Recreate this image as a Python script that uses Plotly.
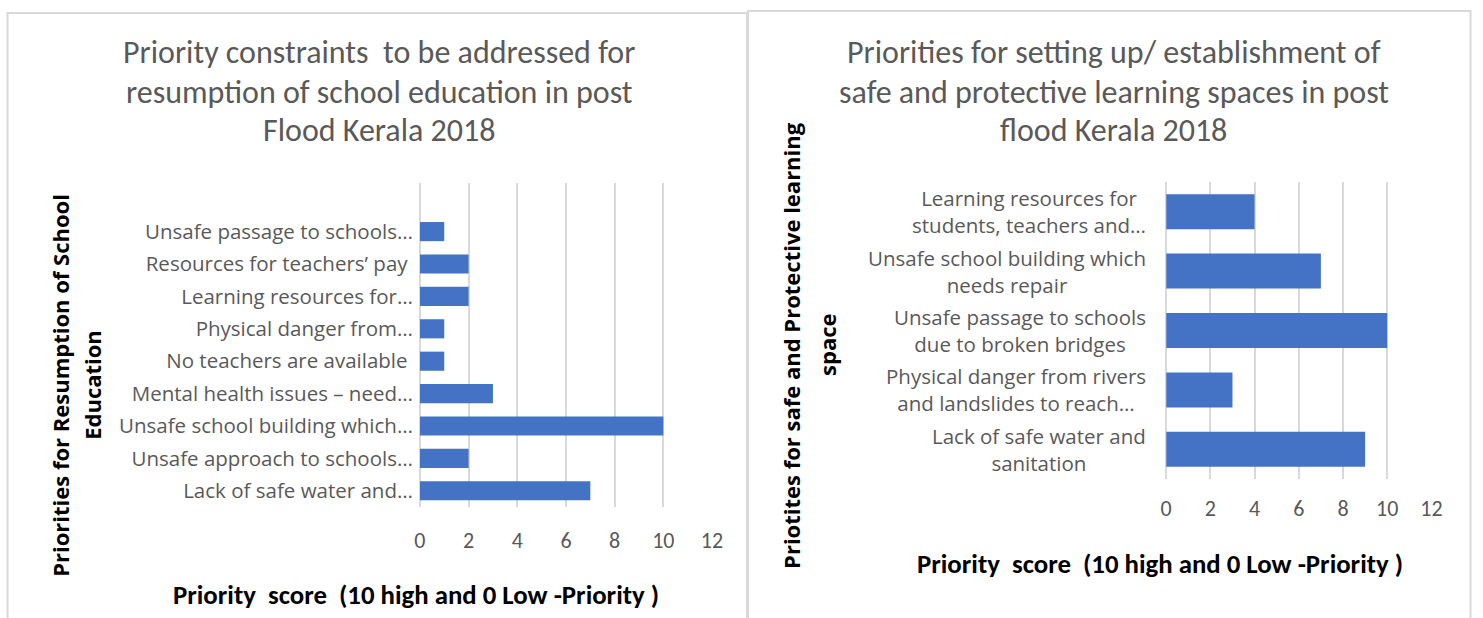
import plotly.graph_objects as go

W, H = 1483, 618

# ---- data ----
left_categories = [
    "Lack of safe water and…",
    "Unsafe approach to schools…",
    "Unsafe school building which…",
    "Mental health issues – need…",
    "No teachers are available ",
    "Physical danger from…",
    "Learning resources for…",
    "Resources for teachers’ pay ",
    "Unsafe passage to schools…",
]
left_values = [7, 2, 10, 3, 1, 1, 2, 2, 1]

right_categories = [
    "Lack of safe water and<br>sanitation",
    "Physical danger from rivers<br>and landslides to reach…",
    "Unsafe passage to schools<br>due to broken bridges",
    "Unsafe school building which<br>needs repair",
    "Learning resources for<br>students, teachers and…",
]
right_values = [9, 3, 10, 7, 4]

x_ticks = [0, 2, 4, 6, 8, 10, 12]

left_title = ["Priority constraints  to be addressed for",
              "resumption of school education in post",
              "Flood Kerala 2018"]
right_title = ["Priorities for setting up/ establishment of",
               "safe and protective learning spaces in post",
               "flood Kerala 2018"]
x_title = "Priority  score  (10 high and 0 Low -Priority )"
left_ytitle = ["Priorities for Resumption of School", "Education"]
right_ytitle = ["Priotites for safe and Protective learning", "space"]

BAR = "#4472C4"
GRAY = "#595959"
GRID = "#D9D9D9"
TITLE_FONT = "Carlito, Lato, sans-serif"
LABEL_FONT = "Open Sans, sans-serif"


def px(x):
    # horizontal placement in paper units (small calibration for the capture)
    xc = (x - 6.07) / 0.9898
    return min(max(xc / W, 0.0), 1.0)


def py(y):
    return 1 - y / H


fig = go.Figure()
fig.add_trace(go.Bar(x=left_values, y=left_categories, orientation="h",
                     marker=dict(color=BAR, line=dict(width=0)),
                     xaxis="x", yaxis="y", showlegend=False))
fig.add_trace(go.Bar(x=right_values, y=right_categories, orientation="h",
                     marker=dict(color=BAR, line=dict(width=0)),
                     xaxis="x2", yaxis="y2", showlegend=False))


def xaxis_cfg(domain, anchor, standoff):
    return dict(domain=domain, anchor=anchor, range=[0, 12], tickvals=x_ticks,
                showgrid=True, gridcolor=GRID, gridwidth=1.5,
                zeroline=True, zerolinecolor=GRID, zerolinewidth=1.5,
                showline=False, ticks="", ticklabelstandoff=standoff,
                tickfont=dict(family=TITLE_FONT, size=22, color=GRAY), fixedrange=True)


fig.update_layout(
    width=W, height=H,
    margin=dict(l=0, r=0, t=0, b=0),
    paper_bgcolor="white", plot_bgcolor="white",
    bargap=0.41,
    xaxis=xaxis_cfg([px(420.5), px(713)], "y", 18),
    yaxis=dict(domain=[py(507), py(183)], anchor="x", type="category",
               categoryorder="array", categoryarray=left_categories,
               range=[-0.5, 9.5], showgrid=False, showline=False, ticks="",
               ticklabelstandoff=6, fixedrange=True,
               tickfont=dict(family=LABEL_FONT, size=20.5, color=GRAY)),
    xaxis2=xaxis_cfg([px(1167.7), px(1433.3)], "y2", 14),
    yaxis2=dict(domain=[py(479), py(182)], anchor="x2", type="category",
                categoryorder="array", categoryarray=right_categories,
                range=[-0.5, 4.5], showgrid=False, showline=False, ticks="",
                showticklabels=False, fixedrange=True),
)

shapes = [
    dict(type="rect", xref="paper", yref="paper", x0=max(px(7), 1.5 / W), x1=px(748),
         y0=py(640), y1=py(13),
         line=dict(color=GRID, width=2), fillcolor="rgba(0,0,0,0)", layer="below"),
    dict(type="rect", xref="paper", yref="paper", x0=px(749), x1=min(px(1475), 1 - 1.5 / W),
         y0=py(640), y1=py(11),
         line=dict(color=GRID, width=2), fillcolor="rgba(0,0,0,0)", layer="below"),
]
fig.update_layout(shapes=shapes)

ann = []
# Titles (one annotation per line)
for lines, cx in [(left_title, 380), (right_title, 1115)]:
    for txt, yy in zip(lines, [52, 92, 130]):
        ann.append(dict(text=txt, x=px(cx), y=py(yy), xref="paper", yref="paper",
                        xanchor="center", yanchor="middle", showarrow=False,
                        font=dict(family=TITLE_FONT, size=32, color=GRAY)))
# X titles
ann.append(dict(text="<b>" + x_title + "</b>", x=px(417), y=py(594), xref="paper", yref="paper",
                xanchor="center", yanchor="middle", showarrow=False,
                font=dict(family=TITLE_FONT, size=26.8, color="black")))
ann.append(dict(text="<b>" + x_title + "</b>", x=px(1162), y=py(563), xref="paper", yref="paper",
                xanchor="center", yanchor="middle", showarrow=False,
                font=dict(family=TITLE_FONT, size=26.8, color="black")))
# Y titles
for txt, xx in zip(left_ytitle, [60, 92]):
    ann.append(dict(text="<b>" + txt + "</b>", x=px(xx), y=py(385), xref="paper", yref="paper",
                    xanchor="center", yanchor="middle", showarrow=False, textangle=-90,
                    font=dict(family=LABEL_FONT, size=22, color="black")))
for txt, xx in zip(right_ytitle, [792, 828]):
    ann.append(dict(text="<b>" + txt + "</b>", x=px(xx), y=py(345), xref="paper", yref="paper",
                    xanchor="center", yanchor="middle", showarrow=False, textangle=-90,
                    font=dict(family=LABEL_FONT, size=22, color="black")))
# Right category labels (centered multi-line)
for cat in right_categories:
    ann.append(dict(text=cat, x=px(1150), y=cat, xref="paper", yref="y2",
                    xanchor="right", yanchor="middle", showarrow=False, align="center",
                    font=dict(family=LABEL_FONT, size=20.5, color=GRAY)))
fig.update_layout(annotations=ann)

fig.write_html(
    "out.html",
    config={"displayModeBar": False},
    post_script=("document.documentElement.style.margin='0px';"
                 "document.body.style.margin='0px';"
                 "document.documentElement.style.overflow='hidden';"
                 "document.body.style.overflow='hidden';"),
)
